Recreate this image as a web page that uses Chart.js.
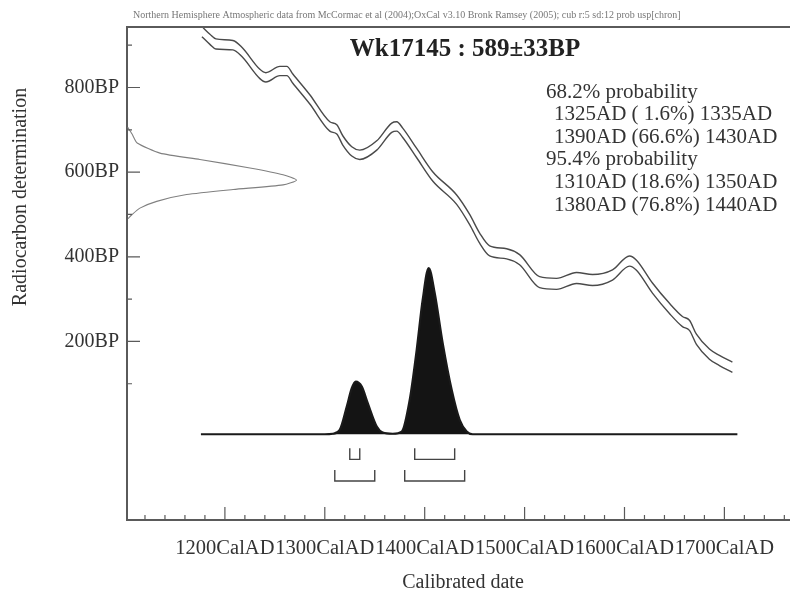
<!DOCTYPE html>
<html lang="en">
<head>
<meta charset="UTF-8">
<title>Wk17145 : 589±33BP</title>
<script src="https://cdn.jsdelivr.net/npm/chart.js"></script>
<style>
  html, body { margin: 0; padding: 0; background: #fff; }
  #calChart { display: block; }
</style>
</head>
<body>
<canvas id="calChart" width="790" height="592"></canvas>
<script>
// calibration curve: cal year AD, BP, 1 sigma band
const calYears = [1177, 1185, 1191, 1208, 1217, 1235, 1241, 1255, 1262, 1268, 1285, 1305, 1312, 1318, 1327, 1335, 1352, 1367, 1372, 1378, 1392, 1408, 1432, 1445, 1455, 1465, 1482, 1495, 1515, 1532, 1552, 1568, 1588, 1605, 1612, 1628, 1645, 1658, 1665, 1672, 1685, 1695, 1708];
const calBP = [932, 914, 903, 900, 884, 832, 824, 839, 839, 821, 772, 708, 701, 675, 649, 641, 663, 705, 708, 693, 645, 590, 535, 488, 444, 414, 407, 393, 340, 336, 350, 345, 357, 390, 380, 326, 278, 247, 238, 205, 170, 155, 139];
const calErr = [12, 12, 12, 11, 11, 11, 11, 11, 11, 11, 11, 11, 11, 11, 11, 11, 11, 11, 11, 11, 11, 11, 11, 12, 12, 12, 12, 12, 13, 13, 13, 13, 12, 12, 12, 12, 12, 12, 12, 12, 12, 12, 12];

// radiocarbon measurement, drawn against the y axis
const c14BP = [706, 690, 669, 645, 630, 610, 594, 581, 570, 559, 547, 531, 515, 500, 490];
const c14Prob = [0.004, 0.03, 0.06, 0.194, 0.429, 0.724, 0.919, 0.998, 0.919, 0.625, 0.351, 0.175, 0.076, 0.03, 0.006];

// calibrated date distribution (relative probability)
const probYears = [1176, 1300, 1308, 1315, 1322, 1327, 1331, 1337, 1343, 1352, 1358, 1368, 1377, 1385, 1392, 1398, 1404, 1410, 1418, 1427, 1435, 1442, 1448, 1713];
const probValues = [0, 0, 0.003, 0.026, 0.166, 0.277, 0.317, 0.287, 0.187, 0.046, 0.01, 0.003, 0.016, 0.207, 0.508, 0.809, 1.0, 0.85, 0.548, 0.267, 0.086, 0.016, 0, 0];

// ranges
const range68 = [[1325, 1335], [1390, 1430]];
const range95 = [[1310, 1350], [1380, 1440]];

// axis labels
const xTickYears = [1200, 1300, 1400, 1500, 1600, 1700];
const yTickBP = [200, 400, 600, 800];

const sampleTitle = 'Wk17145 : 589\u00b133BP';
const headerText = 'Northern Hemisphere Atmospheric data from McCormac et al (2004);OxCal v3.10 Bronk Ramsey (2005); cub r:5 sd:12 prob usp[chron]';
const rangeHeads = ['68.2% probability', '95.4% probability'];
const rangeLines68 = ['1325AD ( 1.6%) 1335AD', '1390AD (66.6%) 1430AD'];
const rangeLines95 = ['1310AD (18.6%) 1350AD', '1380AD (76.8%) 1440AD'];

const serif = "'Liberation Serif', 'Times New Roman', serif";

// bracket path for a set of ranges at a given level
function bracketPoints(ranges, top, bottom) {
    const pts = [];
    ranges.forEach(r => {
        pts.push({ x: r[0], y: top }, { x: r[0], y: bottom }, { x: r[1], y: bottom }, { x: r[1], y: top });
        pts.push({ x: r[1], y: null });
    });
    return pts;
}

const oxcalExtras = {
    id: 'oxcalExtras',
    afterDraw(chart) {
        const ctx = chart.ctx;
        const area = chart.chartArea;
        const xs = chart.scales.x, ys = chart.scales.y;
        ctx.save();
        // top frame line
        ctx.strokeStyle = '#5a5a5a';
        ctx.lineWidth = 2;
        ctx.beginPath();
        ctx.moveTo(area.left, area.top);
        ctx.lineTo(chart.width, area.top);
        ctx.stroke();
        // inward tick marks
        ctx.lineWidth = 1.2;
        ctx.beginPath();
        for (let v = 1120; v <= xs.max; v += 20) {
            const px = xs.getPixelForValue(v);
            const len = v % 100 === 0 ? 13 : 5;
            ctx.moveTo(px, area.bottom);
            ctx.lineTo(px, area.bottom - len);
        }
        for (let v = 100; v <= 900; v += 100) {
            const py = ys.getPixelForValue(v);
            const len = v % 200 === 0 ? 13 : 5;
            ctx.moveTo(area.left, py);
            ctx.lineTo(area.left + len, py);
        }
        ctx.stroke();

        ctx.textBaseline = 'middle';
        // small header
        ctx.fillStyle = '#777';
        ctx.font = '10px ' + serif;
        ctx.textAlign = 'left';
        ctx.fillText(headerText, 133, 15);
        // sample title
        ctx.fillStyle = '#222';
        ctx.font = 'bold 25px ' + serif;
        ctx.textAlign = 'center';
        ctx.fillText(sampleTitle, 465, 50);
        // probability ranges
        ctx.fillStyle = '#333';
        ctx.font = '21px ' + serif;
        ctx.textAlign = 'left';
        const lines = [rangeHeads[0], ...rangeLines68, rangeHeads[1], ...rangeLines95];
        lines.forEach((t, i) => {
            const indent = rangeHeads.includes(t) ? 546 : 554;
            ctx.fillText(t, indent, 92 + i * 22.6);
        });
        // axis titles
        ctx.font = '20px ' + serif;
        ctx.textAlign = 'center';
        ctx.fillText('Calibrated date', 463, 583);
        ctx.translate(21, 197);
        ctx.rotate(-Math.PI / 2);
        ctx.fillText('Radiocarbon determination', 0, 0);
        ctx.restore();
    }
};

const ctx = document.getElementById('calChart').getContext('2d');
new Chart(ctx, {
    type: 'line',
    data: {
        datasets: [
            {
                // curve upper edge
                data: calYears.map((yr, i) => ({ x: yr, y: calBP[i] + calErr[i] })),
                borderColor: '#4a4a4a',
                borderWidth: 1.4,
                pointRadius: 0,
                cubicInterpolationMode: 'monotone',
                xAxisID: 'x',
                yAxisID: 'y'
            },
            {
                // curve lower edge
                data: calYears.map((yr, i) => ({ x: yr, y: calBP[i] - calErr[i] })),
                borderColor: '#4a4a4a',
                borderWidth: 1.4,
                pointRadius: 0,
                cubicInterpolationMode: 'monotone',
                xAxisID: 'x',
                yAxisID: 'y'
            },
            {
                // calibrated distribution
                data: probYears.map((yr, i) => ({ x: yr, y: probValues[i] })),
                borderColor: '#1a1a1a',
                backgroundColor: '#141414',
                borderWidth: 2.2,
                pointRadius: 0,
                fill: { value: 0 },
                cubicInterpolationMode: 'monotone',
                xAxisID: 'x',
                yAxisID: 'yp'
            },
            {
                // measurement on the y axis
                data: c14BP.map((bp, i) => ({ x: c14Prob[i], y: bp })),
                borderColor: '#808080',
                borderWidth: 1.1,
                pointRadius: 0,
                tension: 0.2,
                xAxisID: 'xr',
                yAxisID: 'y'
            },
            {
                data: bracketPoints(range68, -0.084, -0.151),
                borderColor: '#444',
                borderWidth: 1.4,
                pointRadius: 0,
                tension: 0,
                spanGaps: false,
                xAxisID: 'x',
                yAxisID: 'yp'
            },
            {
                data: bracketPoints(range95, -0.215, -0.281),
                borderColor: '#444',
                borderWidth: 1.4,
                pointRadius: 0,
                tension: 0,
                spanGaps: false,
                xAxisID: 'x',
                yAxisID: 'yp'
            }
        ]
    },
    options: {
        responsive: false,
        animation: false,
        events: [],
        layout: { padding: { top: 27, right: 0, left: 0, bottom: 0 } },
        scales: {
            x: {
                type: 'linear',
                position: 'bottom',
                min: 1102,
                max: 1765,
                border: { display: true, color: '#5a5a5a', width: 2 },
                grid: { display: false, drawTicks: false },
                afterBuildTicks: (scale) => { scale.ticks = xTickYears.map(v => ({ value: v })); },
                afterFit: (scale) => { scale.height = 72; },
                ticks: {
                    autoSkip: false,
                    maxRotation: 0,
                    padding: 16,
                    color: '#333',
                    font: { family: serif, size: 20.5 },
                    callback: (v) => v + 'CalAD'
                }
            },
            y: {
                type: 'linear',
                position: 'left',
                min: -222,
                max: 943,
                border: { display: true, color: '#5a5a5a', width: 2 },
                grid: { display: false, drawTicks: false },
                afterBuildTicks: (scale) => { scale.ticks = yTickBP.map(v => ({ value: v })); },
                afterFit: (scale) => { scale.width = 127; },
                ticks: {
                    padding: 8,
                    color: '#333',
                    font: { family: serif, size: 20 },
                    callback: (v) => v + 'BP'
                }
            },
            yp: { type: 'linear', display: false, min: -0.516, max: 2.45 },
            xr: { type: 'linear', display: false, position: 'top', min: 0, max: 3.9 }
        },
        plugins: {
            legend: { display: false },
            tooltip: { enabled: false }
        }
    },
    plugins: [oxcalExtras]
});
</script>
</body>
</html>
